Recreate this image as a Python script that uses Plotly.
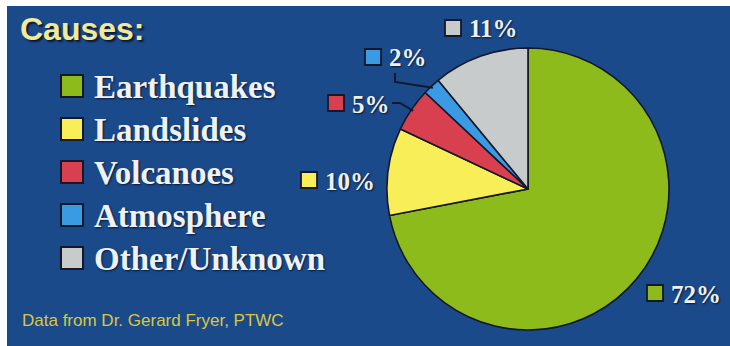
import math
import plotly.graph_objects as go

# ---- data ----
causes = ["Earthquakes", "Landslides", "Volcanoes", "Atmosphere", "Other/Unknown"]
shares = [72, 10, 5, 2, 11]
pct_labels = ["72%", "10%", "5%", "2%", "11%"]
title_text = "Causes:"
source_text = "Data from Dr. Gerard Fryer, PTWC"

# ---- styles ----
colors = ["#8dbb1c", "#f7ee58", "#d9404f", "#3a9be4", "#c7cbcc"]
BG = "#1b4a8b"
W, H = 730, 346

def px(x):
    return x / W

def py(y):
    return 1 - y / H

# pie domain (pixels)
PIE_L, PIE_R, PIE_T, PIE_B = 387, 669, 48, 330

fig = go.Figure()
fig.add_trace(go.Pie(
    labels=causes, values=shares, sort=False, direction="clockwise", rotation=0,
    marker=dict(colors=colors, line=dict(color="#15182a", width=1.6)),
    textinfo="none", hoverinfo="skip", showlegend=False,
    domain=dict(x=[px(PIE_L), px(PIE_R)], y=[py(PIE_B), py(PIE_T)]),
))

shapes = []
annotations = []

# background panel (white rim on top/left)
shapes.append(dict(type="rect", xref="paper", yref="paper", x0=px(7), x1=1.0, y0=0.0, y1=py(6),
                   fillcolor=BG, line=dict(width=0), layer="below"))

# title
annotations.append(dict(text="<b>" + title_text + "</b>", xref="paper", yref="paper",
                        x=px(18), y=py(29), xanchor="left", yanchor="middle", showarrow=False,
                        font=dict(family="Liberation Sans, Arial", size=32, color="#f1ea9c",
                                  shadow="2px 2px 2px #0b1730")))

# legend (manual)
LEG_ROW0, LEG_STEP = 86, 43
for i, (name, col) in enumerate(zip(causes, colors)):
    cy = LEG_ROW0 + i * LEG_STEP
    shapes.append(dict(type="rect", xref="paper", yref="paper",
                       x0=px(61), x1=px(83), y0=py(cy + 11), y1=py(cy - 11),
                       fillcolor=col, line=dict(color="#15182a", width=2)))
    annotations.append(dict(text="<b>" + name + "</b>", xref="paper", yref="paper",
                            x=px(92), y=py(cy + 1), xanchor="left", yanchor="middle", showarrow=False,
                            font=dict(family="Liberation Serif, Times New Roman", size=33, color="#eef1f6",
                                      shadow="1px 1px 2px #0b1730")))

# slice labels (layout positions: square left x, center y)
label_pos = [(647, 293), (301, 180), (328, 103), (365, 57), (445, 28)]
for i, (lbl, col) in enumerate(zip(pct_labels, colors)):
    lx, ly = label_pos[i]
    shapes.append(dict(type="rect", xref="paper", yref="paper",
                       x0=px(lx), x1=px(lx + 16), y0=py(ly + 8), y1=py(ly - 8),
                       fillcolor=col, line=dict(color="#15182a", width=1.8)))
    annotations.append(dict(text="<b>" + lbl + "</b>", xref="paper", yref="paper",
                            x=px(lx + 22), y=py(ly + 1), xanchor="left", yanchor="middle", showarrow=False,
                            font=dict(family="Liberation Serif, Times New Roman", size=25, color="#eef1f6",
                                      shadow="1px 1px 2px #0b1730")))

# leader lines for the small slices, ending on the slice's rim at its mid-angle
cx, cy0 = (PIE_L + PIE_R) / 2, (PIE_T + PIE_B) / 2
R = (PIE_R - PIE_L) / 2
total = sum(shares)
cum = 0
mid_pts = []
for v in shares:
    a = (cum + v / 2) / total * 2 * math.pi
    mid_pts.append((cx + R * math.sin(a) * 0.985, cy0 - R * math.cos(a) * 0.985))
    cum += v

# Volcanoes leader: short horizontal then to rim
ex, ey = mid_pts[2]
shapes.append(dict(type="path", xref="paper", yref="paper",
                   path=f"M {px(392)},{py(103)} L {px(400)},{py(103)} L {px(ex)},{py(ey)}",
                   line=dict(color="#15182a", width=2)))
# Atmosphere leader: vertical drop then to rim
ex, ey = mid_pts[3]
shapes.append(dict(type="path", xref="paper", yref="paper",
                   path=f"M {px(395)},{py(73)} L {px(395)},{py(82)} L {px(ex)},{py(ey)}",
                   line=dict(color="#15182a", width=2)))

# source note
annotations.append(dict(text=source_text, xref="paper", yref="paper",
                        x=px(20), y=py(320), xanchor="left", yanchor="middle", showarrow=False,
                        font=dict(family="Liberation Sans, Arial", size=17, color="#d9c744")))

fig.update_layout(
    width=W, height=H, margin=dict(l=0, r=0, t=0, b=0),
    paper_bgcolor="white", plot_bgcolor="white",
    shapes=shapes, annotations=annotations, showlegend=False,
)

fig.write_html("out.html", config={"displayModeBar": False})
